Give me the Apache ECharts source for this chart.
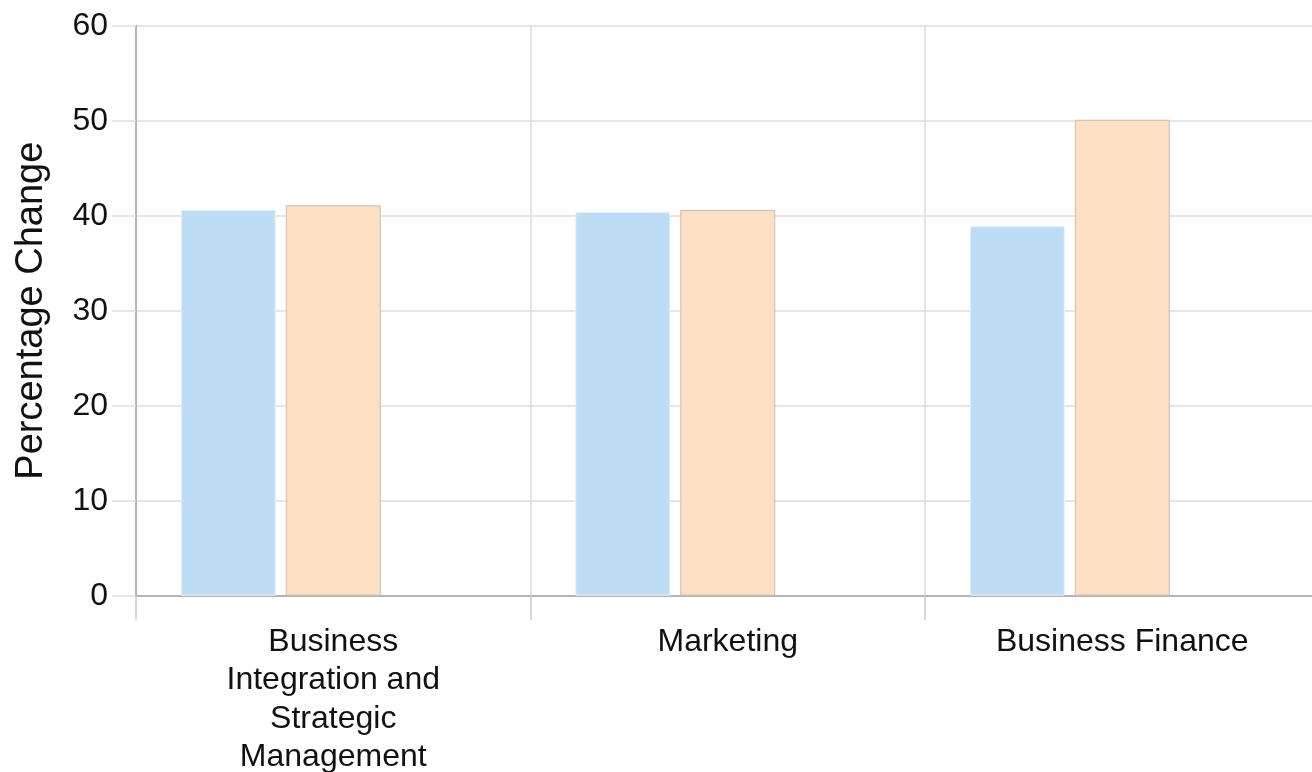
<!DOCTYPE html>
<html>
<head>
<meta charset="utf-8">
<script src="https://cdn.jsdelivr.net/npm/echarts@6/dist/echarts.min.js"></script>
<style>html,body{margin:0;padding:0;background:#fff}#c{width:1312px;height:772px}</style>
</head>
<body>
<div id="c"></div>
<script>
var categories = ['Business Integration and Strategic Management', 'Marketing', 'Business Finance'];
var categoryLabels = ['Business\nIntegration and\nStrategic\nManagement', 'Marketing', 'Business Finance'];
var seriesA = [40.6, 40.4, 38.9];
var seriesB = [41.1, 40.6, 50.1];
var seriesC = [null, null, null];
var yTicks = [0, 10, 20, 30, 40, 50, 60];

var chart = echarts.init(document.getElementById('c'));
var font = '"Liberation Sans", Arial, sans-serif';
chart.setOption({
  animation: false,
  grid: { left: 136, right: -7.5, top: 25.7, bottom: 176.3, containLabel: false, outerBoundsMode: 'none' },
  xAxis: {
    type: 'category',
    data: categories,
    axisLine: { show: true, lineStyle: { color: '#b3b3b3', width: 2 } },
    axisTick: { show: true, length: 24, lineStyle: { color: '#cccccc', width: 1.5 } },
    splitLine: { show: true, interval: 0, lineStyle: { color: '#dddddd', width: 1.5 } },
    axisLabel: {
      interval: 0, margin: 27, color: '#111111', fontSize: 32, fontFamily: font,
      lineHeight: 38.5,
      formatter: function (v, i) { return categoryLabels[categories.indexOf(v)]; }
    }
  },
  yAxis: {
    type: 'value',
    min: yTicks[0], max: yTicks[yTicks.length - 1], interval: 10,
    name: 'Percentage Change', nameLocation: 'middle', nameGap: 85,
    nameTextStyle: { color: '#111111', fontSize: 38, fontFamily: font },
    axisLine: { show: true, lineStyle: { color: '#b3b3b3', width: 2 } },
    axisTick: { show: true, length: 24, lineStyle: { color: '#dddddd', width: 1.5 } },
    splitLine: { show: true, lineStyle: { color: '#dddddd', width: 1.5 } },
    axisLabel: { margin: 28, color: '#111111', fontSize: 32, fontFamily: font }
  },
  series: [
    { type: 'bar', data: seriesA, barWidth: 95, barGap: '10.5%',
      itemStyle: { color: '#bfdcf5', borderColor: '#e6f1fb', borderWidth: 1 } },
    { type: 'bar', data: seriesB, barWidth: 95, barGap: '10.5%',
      itemStyle: { color: '#fddfc6', borderColor: '#cdbcad', borderWidth: 1 } },
    { type: 'bar', data: seriesC, barWidth: 95, barGap: '10.5%',
      itemStyle: { color: '#d9ead3' } }
  ]
});
</script>
</body>
</html>
